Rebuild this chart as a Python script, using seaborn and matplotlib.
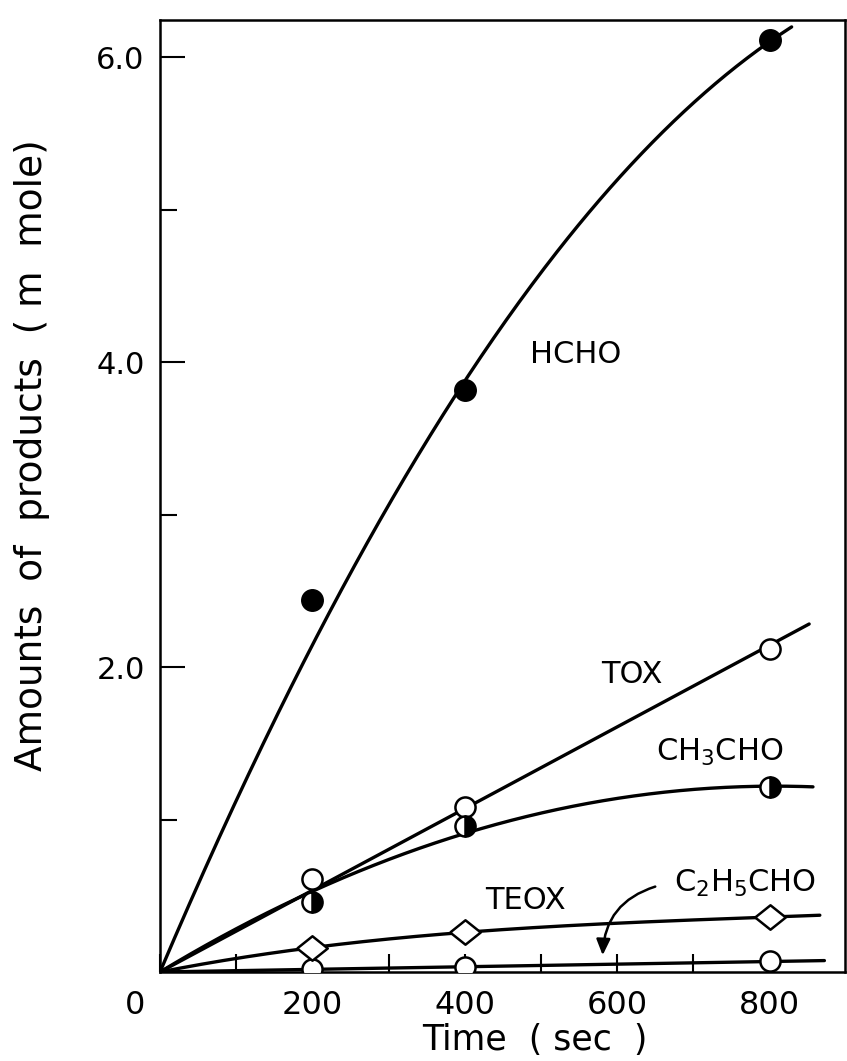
import numpy as np
import matplotlib
matplotlib.use("Agg")
import matplotlib.pyplot as plt
from matplotlib.transforms import ScaledTranslation
import seaborn as sns

# Measured product amounts (m mole) at each reaction time (sec)
time_s = [200, 400, 800]
hcho = [2.44, 3.82, 6.11]
tox = [0.61, 1.08, 2.12]
ch3cho = [0.46, 0.96, 1.21]
teox = [0.16, 0.26, 0.36]
c2h5cho = [0.02, 0.03, 0.07]

x_ticks = [0, 200, 400, 600, 800]
x_minor = [100, 300, 500, 700]
y_ticks = [2.0, 4.0, 6.0]
y_minor = [1.0, 3.0, 5.0]

sns.set_theme(style="ticks")
plt.rcParams["font.family"] = ["DejaVu Sans"]
plt.rcParams["mathtext.fontset"] = "dejavusans"
for key in ["text.color", "axes.labelcolor", "xtick.color", "ytick.color"]:
    plt.rcParams[key] = "black"

fig = plt.figure(figsize=(8.47, 10.61), dpi=100)
ax = fig.add_axes([0.1889, 0.0839, 0.8087, 0.8972])


def smooth_curve(values, degree, x_end, weights=None):
    """Weighted least-squares polynomial through the origin."""
    t = np.asarray(time_s, float) / 100.0
    v = np.asarray(values, float)
    w = np.ones_like(t) if weights is None else np.asarray(weights, float)
    design = np.column_stack([t ** k for k in range(1, degree + 1)])
    coef, *_ = np.linalg.lstsq(design * w[:, None], v * w, rcond=None)
    xs = np.linspace(0, x_end / 100.0, 300)
    ys = sum(c * xs ** (k + 1) for k, c in enumerate(coef))
    return xs * 100.0, ys


line_kw = dict(color="black", linewidth=2.4, zorder=2)
for values, degree, x_end, weights in [
    (hcho, 2, 829, [0.5, 1.0, 1.0]),
    (tox, 1, 852, None),
    (ch3cho, 2, 857, None),
    (teox, 3, 866, None),
    (c2h5cho, 1, 872, None),
]:
    xs, ys = smooth_curve(values, degree, x_end, weights)
    sns.lineplot(x=xs, y=ys, ax=ax, sort=False, estimator=None, **line_kw)

# Flattened diamond marker used for TEOX
diamond = [(-1.0, 0.0), (0.0, 0.8), (1.0, 0.0), (0.0, -0.8), (-1.0, 0.0)]

ax.plot(time_s, c2h5cho, ls="none", marker="o", ms=14.5, mfc="white",
        mec="black", mew=1.8, zorder=4)
ax.plot(time_s, teox, ls="none", marker=diamond, ms=22, mfc="white",
        mec="black", mew=1.8, zorder=4)
ax.plot(time_s, tox, ls="none", marker="o", ms=14.5, mfc="white",
        mec="black", mew=1.8, zorder=4)
ax.plot(time_s, ch3cho, ls="none", marker="o", ms=14.5, fillstyle="right",
        mfc="black", markerfacecoloralt="white", mec="black", mew=1.8,
        zorder=5)
ax.plot(time_s, hcho, ls="none", marker="o", ms=15.5, mfc="black",
        mec="black", mew=1.0, zorder=4)

# Curve labels
lab_kw = dict(fontsize=22, ha="center", va="center", color="black")
ax.text(546, 4.05, "HCHO", **lab_kw)
ax.text(619, 1.95, "TOX", **lab_kw)
ax.text(735, 1.44, r"CH$_3$CHO", **lab_kw)
ax.text(479, 0.47, "TEOX", **lab_kw)
ax.text(768, 0.58, r"C$_2$H$_5$CHO", **lab_kw)
ax.annotate("", xy=(581, 0.11), xytext=(650, 0.56),
            arrowprops=dict(arrowstyle="-|>,head_length=0.8,head_width=0.35",
                            color="black", lw=1.8,
                            connectionstyle="arc3,rad=0.35",
                            shrinkA=0, shrinkB=0))

ax.set_xlim(0, 899)
ax.set_ylim(0, 6.243)

ax.set_xticks(x_ticks)
ax.set_xticklabels([str(v) for v in x_ticks])
ax.set_xticks(x_minor, minor=True)
ax.set_yticks(y_ticks)
ax.set_yticklabels([f"{v:.1f}" for v in y_ticks])
ax.set_yticks(y_minor, minor=True)

ax.tick_params(axis="x", which="both", direction="in", length=13, width=1.5,
               labelsize=23, pad=13, colors="black")
ax.tick_params(axis="y", which="major", direction="in", length=18, width=1.5,
               labelsize=22, pad=11, colors="black")
ax.tick_params(axis="y", which="minor", direction="in", length=12, width=1.5)

for side in ["left", "right", "top", "bottom"]:
    ax.spines[side].set_visible(True)
    ax.spines[side].set_linewidth(1.8)
    ax.spines[side].set_color("black")

# Shift the origin label to the left of the corner
zero_label = ax.get_xticklabels()[0]
zero_label.set_transform(zero_label.get_transform()
                         + ScaledTranslation(-0.25, 0, fig.dpi_scale_trans))

fig.text(0.0378, 0.571, "Amounts  of  products  ( m  mole)", rotation=90,
         fontsize=27, ha="center", va="center")
fig.text(0.6317, 0.0198, "Time  ( sec  )", fontsize=25, ha="center",
         va="center")

fig.savefig("out.png", dpi=100)
